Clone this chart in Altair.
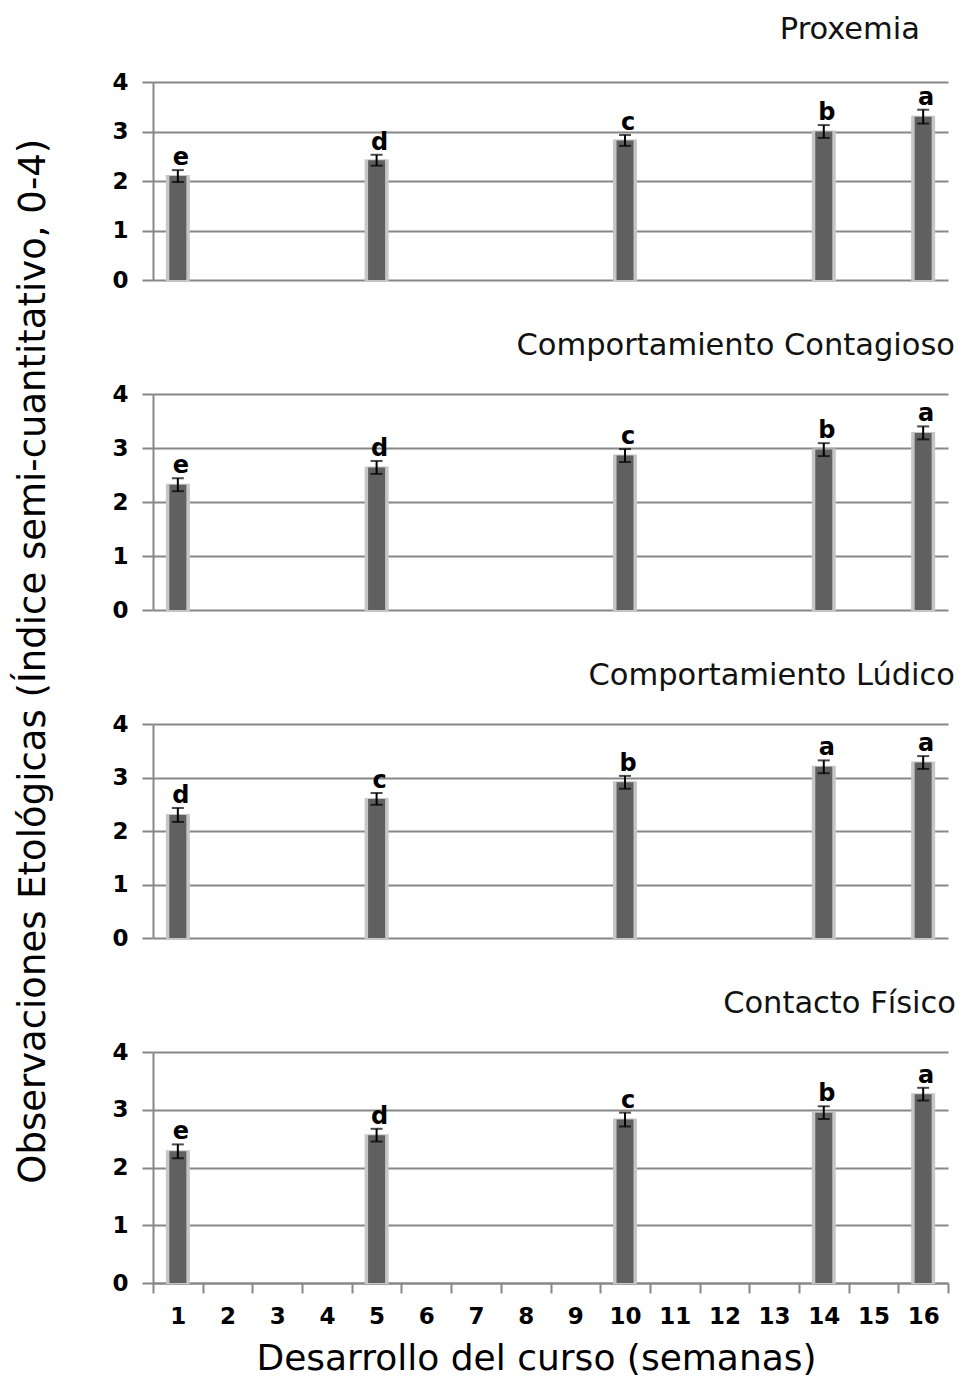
import altair as alt
import pandas as pd

weeks_all = list(range(1, 17))
weeks = [1, 5, 10, 14, 16]

panel_titles = ["Proxemia", "Comportamiento Contagioso", "Comportamiento Lúdico", "Contacto Físico"]

proxemia = [2.10, 2.42, 2.82, 3.00, 3.30]
proxemia_err = [0.12, 0.11, 0.11, 0.13, 0.14]
proxemia_lbl = ["e", "d", "c", "b", "a"]

contagioso = [2.32, 2.64, 2.86, 2.97, 3.28]
contagioso_err = [0.12, 0.12, 0.12, 0.12, 0.12]
contagioso_lbl = ["e", "d", "c", "b", "a"]

ludico = [2.30, 2.60, 2.91, 3.20, 3.28]
ludico_err = [0.13, 0.11, 0.12, 0.12, 0.12]
ludico_lbl = ["d", "c", "b", "a", "a"]

contacto = [2.28, 2.56, 2.83, 2.95, 3.27]
contacto_err = [0.12, 0.11, 0.12, 0.11, 0.11]
contacto_lbl = ["e", "d", "c", "b", "a"]

y_title = "Observaciones Etológicas (Índice semi-cuantitativo, 0-4)"
x_title = "Desarrollo del curso (semanas)"

GRID = "#878787"


def panel(title, vals, errs, lbls, height, bottom, title_dx, title_offset):
    df = pd.DataFrame({"week": weeks, "value": vals, "err": errs, "lbl": lbls})
    if bottom:
        xaxis = alt.Axis(
            title=x_title, labelAngle=0, tickBand="extent", tickSize=10,
            labelPadding=12, titleFont="DejaVu Sans", titleFontSize=36,
            titleFontWeight="normal", titleColor="black", titlePadding=13,
            titleX=383, grid=False, domainColor=GRID, domainWidth=2,
        )
    else:
        xaxis = None
    x = alt.X("week:O", scale=alt.Scale(domain=weeks_all, paddingInner=0, paddingOuter=0), axis=xaxis)
    yscale = alt.Scale(domain=[0, 4])
    yaxis = alt.Axis(values=[0, 1, 2, 3, 4], title=None, grid=True, tickSize=11, labelPadding=14)

    def Y(f):
        return alt.Y(f, type="quantitative", scale=yscale, axis=yaxis)

    base = alt.Chart(df).transform_calculate(
        lo="datum.value - datum.err", hi="datum.value + datum.err"
    ).encode(x=x)
    back = base.mark_bar(size=22, color="#c6c6c6", stroke="#c6c6c6", strokeWidth=2).encode(y=Y("value"))
    front = base.mark_bar(size=17, color="#606060").encode(y=Y("value"))
    rule = base.mark_rule(color="black", strokeWidth=2).encode(y=Y("lo"), y2="hi:Q")
    tlo = base.mark_tick(color="black", size=12, thickness=2).encode(y=Y("lo"))
    thi = base.mark_tick(color="black", size=12, thickness=2).encode(y=Y("hi"))
    txt = base.mark_text(
        font="DejaVu Sans", fontWeight="bold", fontSize=24, baseline="alphabetic",
        dy=-5, dx=3, color="black",
    ).encode(y=Y("hi"), text="lbl:N")
    return alt.layer(back, front, rule, tlo, thi, txt).properties(
        width=795, height=height,
        title=alt.TitleParams(
            title, anchor="end", font="DejaVu Sans", fontSize=30.5, fontWeight="normal",
            color="#111111", dx=title_dx, offset=title_offset, baseline="alphabetic",
        ),
    )


p1 = panel(panel_titles[0], proxemia, proxemia_err, proxemia_lbl, 198, False, -28, 2)
p2 = panel(panel_titles[1], contagioso, contagioso_err, contagioso_lbl, 216, False, 7, -2)
p3 = panel(panel_titles[2], ludico, ludico_err, ludico_lbl, 214, False, 7, -2)
p4 = panel(panel_titles[3], contacto, contacto_err, contacto_lbl, 231, True, 7, -2)

chart = alt.vconcat(p1, p2, p3, p4, spacing=114, bounds="flush").properties(
    title=alt.TitleParams(
        y_title, orient="left", anchor="middle", font="DejaVu Sans", fontSize=37,
        fontWeight="normal", color="black", offset=59, dx=34,
    ),
    padding={"left": 6, "top": 6, "right": 0, "bottom": 0},
).configure_axis(
    gridColor=GRID, gridWidth=2, domainColor=GRID, domainWidth=2,
    tickColor=GRID, tickWidth=2, labelFont="DejaVu Sans", labelFontWeight="bold",
    labelFontSize=23, labelColor="black",
).configure_view(stroke=None)

chart.save("out.html", embed_options={"renderer": "svg", "actions": False})
